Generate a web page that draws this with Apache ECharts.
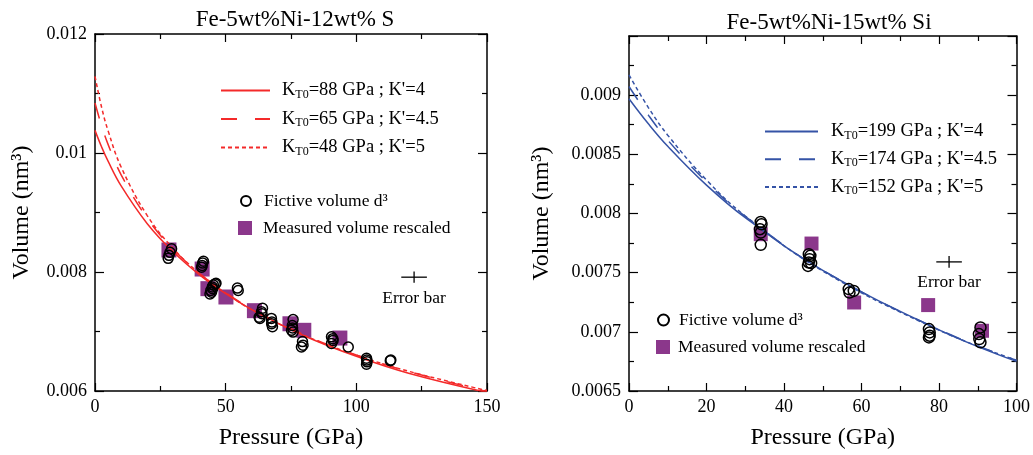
<!DOCTYPE html>
<html><head><meta charset="utf-8">
<script src="https://cdn.jsdelivr.net/npm/echarts@6/dist/echarts.min.js"></script>
<style>html,body{margin:0;padding:0;background:#fff}#c{width:1033px;height:455px}</style>
</head><body><div id="c"></div>
<script>
// ---------- Left panel: Fe-5wt%Ni-12wt% S ----------
const titleS = 'Fe-5wt%Ni-12wt% S';
const fitPressureS = [0, 2.5, 5, 10, 20, 30, 40, 50, 60, 80, 100, 120, 150];
const fitS_K88 = [0.01038, 0.010104, 0.009862, 0.009447, 0.008812, 0.008335, 0.007952, 0.007637, 0.007368, 0.006929, 0.006583, 0.006298, 0.005975];
const fitS_K65 = [0.01084, 0.010461, 0.010145, 0.009634, 0.008901, 0.008380, 0.007978, 0.007652, 0.007380, 0.006945, 0.006604, 0.006327, 0.005992];
const fitS_K48 = [0.011287, 0.010773, 0.010374, 0.009764, 0.008948, 0.008391, 0.007976, 0.007645, 0.007365, 0.006936, 0.006603, 0.006332, 0.006007];
const fictivePressureS = [28.0, 28.3, 28.7, 29.3, 40.8, 41.0, 41.2, 41.5, 44.0, 44.3, 44.6, 44.9, 45.0, 45.3, 46.0, 46.3, 54.5, 54.8, 62.8, 63.1, 63.7, 63.9, 64.1, 67.5, 67.6, 67.7, 67.9, 75.2, 75.5, 75.6, 75.8, 75.8, 79.0, 79.4, 79.6, 90.5, 90.5, 91.0, 91.1, 96.9, 103.9, 103.9, 104.0, 104.1, 113.0, 113.2];
const fictiveVolumeS   = [0.00823, 0.00828, 0.00833, 0.00839, 0.00808, 0.00811, 0.00815, 0.00818, 0.00763, 0.00769, 0.00766, 0.00775, 0.00772, 0.00778, 0.00780, 0.00781, 0.00773, 0.00769, 0.00724, 0.00722, 0.00733, 0.00730, 0.00739, 0.00722, 0.00713, 0.00716, 0.00708, 0.00702, 0.00710, 0.00706, 0.00720, 0.00699, 0.00674, 0.00683, 0.00677, 0.00691, 0.00680, 0.00688, 0.00685, 0.00674, 0.00655, 0.00645, 0.00652, 0.00649, 0.00651, 0.00652];
const measuredPressureS = [28.3, 41.0, 43.2, 50.1, 61.0, 74.6, 79.9, 93.7];
const measuredVolumeS   = [0.00837, 0.00805, 0.00772, 0.00758, 0.00735, 0.00713, 0.00702, 0.00689];
const errorBarS = [122.1, 0.007913, 4.9, 0.000095];
const xTicksS = {min: 0, max: 150, interval: 50};
const yTicksS = {min: 0.006, max: 0.012, interval: 0.002};
const legendS = {S88: 'K|T0|=88 GPa ; K\'=4', S65: 'K|T0|=65 GPa ; K\'=4.5', S48: 'K|T0|=48 GPa ; K\'=5'};

// ---------- Right panel: Fe-5wt%Ni-15wt% Si ----------
const titleSi = 'Fe-5wt%Ni-15wt% Si';
const fitPressureSi = [0, 5, 10, 20, 30, 50, 80, 100];
const fitSi_K199 = [0.008970, 0.008758, 0.008568, 0.008240, 0.007965, 0.007519, 0.007017, 0.006750];
const fitSi_K174 = [0.009073, 0.008831, 0.008620, 0.008267, 0.007976, 0.007520, 0.007019, 0.006759];
const fitSi_K152 = [0.009171, 0.008895, 0.008662, 0.008283, 0.007979, 0.007514, 0.007014, 0.006760];
const fictivePressureSi = [34.0, 34.2, 33.8, 34.0, 34.0, 46.4, 46.8, 46.6, 46.4, 46.2, 47.0, 56.7, 56.9, 58.0, 77.4, 77.6, 77.6, 77.4, 90.7, 90.3, 90.4, 90.7];
const fictiveVolumeSi   = [0.007929, 0.007909, 0.007867, 0.007839, 0.007735, 0.007656, 0.007642, 0.007614, 0.007586, 0.007557, 0.007580, 0.007361, 0.007332, 0.007346, 0.007023, 0.006995, 0.006967, 0.006953, 0.007037, 0.006981, 0.006939, 0.006911];
const measuredPressureSi = [34.0, 47.1, 58.1, 77.2, 91.1];
const measuredVolumeSi   = [0.007825, 0.007746, 0.007248, 0.007226, 0.007009];
const errorBarSi = [82.6, 0.007591, 3.3, 0.000049];
const xTicksSi = {min: 0, max: 100, interval: 20};
const yTicksSi = {min: 0.0065, max: 0.0095, interval: 0.0005};
const legendSi = {Si199: 'K|T0|=199 GPa ; K\'=4', Si174: 'K|T0|=174 GPa ; K\'=4.5', Si152: 'K|T0|=152 GPa ; K\'=5'};

const FONT = '"Liberation Serif","Times New Roman",serif';
const RED = '#f42a2a', BLUE = '#3553a6', PURPLE = '#8b378b';

const zip = (xs, ys) => xs.map((x, i) => [x, ys[i]]);
const fmtNum = v => String(+(+v).toFixed(6));

function xAx(grid, t, pos) {
  const main = pos === 'bottom';
  return {
    gridIndex: grid, type: 'value', position: pos, min: t.min, max: t.max, interval: t.interval,
    axisLine: {show: true, onZero: false, lineStyle: {color: '#000', width: 1.5}},
    axisTick: {show: true, inside: true, length: 8, lineStyle: {color: '#000', width: 1.2}},
    minorTick: {show: true, splitNumber: 2, length: 5, lineStyle: {color: '#000', width: 1.2}},
    axisLabel: {show: main, margin: 7, color: '#000', fontFamily: FONT, fontSize: 18, formatter: fmtNum},
    splitLine: {show: false}, minorSplitLine: {show: false},
    name: main ? 'Pressure (GPa)' : '', nameLocation: 'middle', nameGap: 35,
    nameTextStyle: {color: '#000', fontFamily: FONT, fontSize: 24}
  };
}
function yAx(grid, t, pos, gap, hideMax) {
  const main = pos === 'left';
  return {
    gridIndex: grid, type: 'value', position: pos, min: t.min, max: t.max, interval: t.interval,
    axisLine: {show: true, onZero: false, lineStyle: {color: '#000', width: 1.5}},
    axisTick: {show: true, inside: true, length: 9, lineStyle: {color: '#000', width: 1.2}},
    minorTick: {show: true, splitNumber: 2, length: 5, lineStyle: {color: '#000', width: 1.2}},
    axisLabel: {show: main, margin: 8, color: '#000', fontFamily: FONT, fontSize: 18, formatter: fmtNum, showMaxLabel: !hideMax},
    splitLine: {show: false}, minorSplitLine: {show: false},
    name: main ? 'Volume (nm³)' : '', nameLocation: 'middle', nameGap: gap,
    nameTextStyle: {color: '#000', fontFamily: FONT, fontSize: 24}
  };
}
function fitLine(name, xi, yi, px, vals, color, type) {
  return {name, type: 'line', xAxisIndex: xi, yAxisIndex: yi, data: zip(px, vals), smooth: 0.4,
    symbol: 'none', showSymbol: false, z: 3, clip: true, lineStyle: {color, width: 1.5, type}, itemStyle: {color}};
}
function errorBar(name, xi, yi, eb) {
  return {name, type: 'custom', xAxisIndex: xi, yAxisIndex: yi, z: 5, data: [eb],
    renderItem: (params, api) => {
      const p = api.value(0), v = api.value(1), dp = api.value(2), dv = api.value(3);
      const c = api.coord([p, v]);
      const l = api.coord([p - dp, v]), r = api.coord([p + dp, v]);
      const t = api.coord([p, v + dv]), b = api.coord([p, v - dv]);
      const st = {stroke: '#000', lineWidth: 1.3};
      return {type: 'group', children: [
        {type: 'line', shape: {x1: l[0], y1: c[1], x2: r[0], y2: c[1]}, style: st},
        {type: 'line', shape: {x1: c[0], y1: t[1], x2: c[0], y2: b[1]}, style: st},
        {type: 'text', style: {x: c[0], y: c[1] + 21, text: 'Error bar', textAlign: 'center', textVerticalAlign: 'middle',
          font: '17.5px ' + FONT, fill: '#000'}}
      ]};
    }};
}
function kLabel(map) {
  return name => {
    const [a, b, c] = map[name].split('|');
    return '{k|' + a + '}{s|' + b + '}{m|' + c + '}';
  };
}
function lineLegend(names, map, left, top, width, gap, pad) {
  return {data: names, orient: 'vertical', left, top, padding: 0, itemWidth: width, itemHeight: 14, itemGap: gap,
    selectedMode: false, formatter: kLabel(map),
    itemStyle: {opacity: 0, borderWidth: 0},
    lineStyle: {opacity: 1},
    textStyle: {color: '#000', fontFamily: FONT, fontSize: 18.5,
      rich: {
        k: {fontFamily: FONT, fontSize: 18.5, lineHeight: 20, color: '#000', padding: [0, 0, 0, pad]},
        s: {fontFamily: FONT, fontSize: 12, lineHeight: 1, color: '#000', verticalAlign: 'bottom'},
        m: {fontFamily: FONT, fontSize: 18.5, lineHeight: 20, color: '#000'}
      }}};
}
function ptLegend(name, text, left, top, size, pad) {
  return {data: [name], orient: 'vertical', left, top, padding: 0, itemWidth: size, itemHeight: size,
    selectedMode: false, formatter: () => '{t|' + text + '}',
    itemStyle: {opacity: 1},
    textStyle: {color: '#000', fontFamily: FONT, fontSize: 17.5,
      rich: {t: {fontFamily: FONT, fontSize: 17.5, lineHeight: 20, color: '#000', padding: [0, 0, 0, pad]}}}};
}
const circleStyle = {color: 'rgba(0,0,0,0)', borderColor: '#000', borderWidth: 1.5, opacity: 1};
const squareStyle = {color: PURPLE, opacity: 1};

const option = {
  animation: false,
  backgroundColor: '#fff',
  title: [
    {text: titleS, left: 290, top: 3, textAlign: 'center', textStyle: {fontFamily: FONT, fontSize: 23, fontWeight: 'normal', color: '#000'}},
    {text: titleSi, left: 824, top: 6, textAlign: 'center', textStyle: {fontFamily: FONT, fontSize: 23, fontWeight: 'normal', color: '#000'}}
  ],
  grid: [
    {left: 95, top: 34, width: 392, height: 359},
    {left: 629, top: 36, width: 390, height: 356}
  ],
  xAxis: [xAx(0, xTicksS, 'bottom'), xAx(0, xTicksS, 'top'), xAx(1, xTicksSi, 'bottom'), xAx(1, xTicksSi, 'top')],
  yAxis: [yAx(0, yTicksS, 'left', 61, false), yAx(0, yTicksS, 'right', 0, false), yAx(1, yTicksSi, 'left', 75, true), yAx(1, yTicksSi, 'right', 0, true)],
  legend: [
    lineLegend(['S88', 'S65', 'S48'], legendS, 220, 81, 49, 9, 7),
    ptLegend('S_fict', 'Fictive volume d³', 240, 192, 10, 8),
    ptLegend('S_meas', 'Measured volume rescaled', 238, 219, 14, 6),
    lineLegend(['Si199', 'Si174', 'Si152'], legendSi, 764, 122, 53, 8.3, 8),
    ptLegend('Si_fict', 'Fictive volume d³', 657, 311, 11, 5),
    ptLegend('Si_meas', 'Measured volume rescaled', 656, 338, 14, 3)
  ],
  series: [
    {name: 'S_meas', type: 'scatter', xAxisIndex: 0, yAxisIndex: 0, z: 2, symbol: 'rect', symbolSize: 15,
      data: zip(measuredPressureS, measuredVolumeS), itemStyle: squareStyle},
    fitLine('S88', 0, 0, fitPressureS, fitS_K88, RED, 'solid'),
    fitLine('S65', 0, 0, fitPressureS, fitS_K65, RED, [16, 18]),
    fitLine('S48', 0, 0, fitPressureS, fitS_K48, RED, [4, 3]),
    {name: 'S_fict', type: 'scatter', xAxisIndex: 0, yAxisIndex: 0, z: 4, symbol: 'circle', symbolSize: 10,
      data: zip(fictivePressureS, fictiveVolumeS), itemStyle: circleStyle},
    errorBar('S_err', 0, 0, errorBarS),

    {name: 'Si_meas', type: 'scatter', xAxisIndex: 2, yAxisIndex: 2, z: 2, symbol: 'rect', symbolSize: 14,
      data: zip(measuredPressureSi, measuredVolumeSi), itemStyle: squareStyle},
    fitLine('Si199', 2, 2, fitPressureSi, fitSi_K199, BLUE, 'solid'),
    fitLine('Si174', 2, 2, fitPressureSi, fitSi_K174, BLUE, [16, 18]),
    fitLine('Si152', 2, 2, fitPressureSi, fitSi_K152, BLUE, [4, 3]),
    {name: 'Si_fict', type: 'scatter', xAxisIndex: 2, yAxisIndex: 2, z: 4, symbol: 'circle', symbolSize: 11,
      data: zip(fictivePressureSi, fictiveVolumeSi), itemStyle: circleStyle},
    errorBar('Si_err', 2, 2, errorBarSi)
  ]
};
const chart = echarts.init(document.getElementById('c'), null, {renderer: 'canvas'});
chart.setOption(option);
</script>
</body></html>
